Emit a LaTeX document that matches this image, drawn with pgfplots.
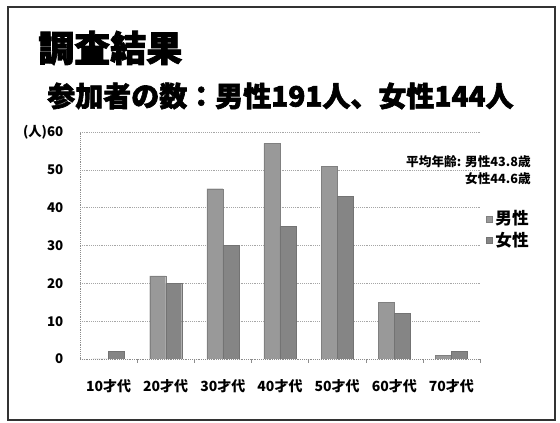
\documentclass[border=0pt]{standalone}
\usepackage{fontspec}
\setmainfont{Noto Sans CJK JP}
\newfontfamily\heavyfont{Noto Sans CJK JP}[BoldFeatures={FakeBold=2.2}]
\usepackage{pgfplots}
\pgfplotsset{compat=1.18}

\definecolor{maleGray}{gray}{0.60}
\definecolor{femaleGray}{gray}{0.52}

\begin{document}
\begin{tikzpicture}[x=0.75pt,y=0.75pt]
% page area (units: 0.75pt)
\path[use as bounding box] (0,0) rectangle (560,423);
\draw[line width=1.8pt, black!80] (8,3) rectangle (555,416);

% titles
\node[anchor=west, inner sep=0pt, font=\fontsize{27}{30}\heavyfont\bfseries] at (38,375) {調査結果};
\node[anchor=west, inner sep=0pt, font=\fontsize{21}{24}\heavyfont\bfseries] at (47,327) {参加者の数：男性191人、女性144人};

\begin{axis}[
  at={(60pt,48pt)}, anchor=south west,
  scale only axis,
  width=300pt, height=170.25pt,
  ybar=0pt, bar width=12pt,
  xmin=-0.5, xmax=6.5,
  ymin=0, ymax=60,
  ytick={0,10,...,60},
  yticklabels={0,10,20,30,40,50,(人)60},
  xtick={0,...,6},
  xticklabels={10才代,20才代,30才代,40才代,50才代,60才代,70才代},
  extra x ticks={0.5,1.5,...,6.5},
  extra x tick labels={},
  extra x tick style={major tick length=3pt, tick align=outside, tick style={black!45}},
  major tick length=0pt,
  axis lines*=left,
  axis line style={black!45, densely dotted},
  ymajorgrids,
  grid style={black!35, densely dotted},
  /pgf/number format/assume math mode=true,
  yticklabel style={font=\fontsize{10}{12}\selectfont\bfseries, xshift=-9pt},
  xticklabel style={font=\fontsize{10.5}{12}\selectfont\bfseries, yshift=-12pt},
  legend style={at={(1.015,0.57)}, anchor=west, draw=none, fill=none,
    font=\fontsize{12.5}{14}\selectfont\bfseries, row sep=0pt,
    inner sep=0pt, cells={anchor=west}},
  legend image code/.code={\fill[#1] (0pt,-2.3pt) rectangle (4.6pt,2.3pt);},
]
% men
\addplot[fill=maleGray, draw=black!50, line width=0.3pt]
  coordinates {(0,0) (1,22) (2,45) (3,57) (4,51) (5,15) (6,1)};
% women
\addplot[fill=femaleGray, draw=black!55, line width=0.3pt]
  coordinates {(0,2) (1,20) (2,30) (3,35) (4,43) (5,12) (6,2)};
\legend{男性,女性}
\end{axis}

% mean age note
\node[anchor=north east, inner sep=0pt, align=right,
      font=\fontsize{9.5}{12.75}\selectfont\bfseries] at (531,268)
  {平均年齢: 男性43.8歳\\女性44.6歳};
\end{tikzpicture}
\end{document}
